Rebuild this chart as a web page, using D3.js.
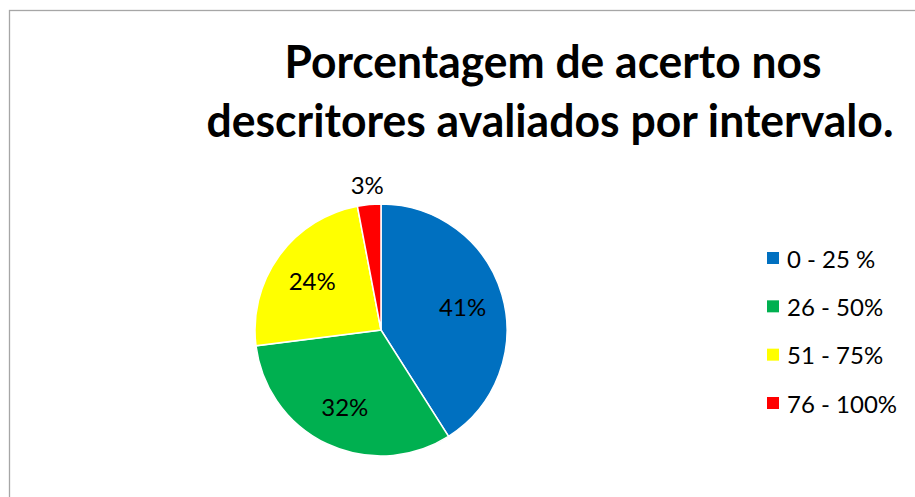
<!DOCTYPE html>
<html lang="pt">
    <head>
        <meta charset="utf-8">
        <title>Porcentagem de acerto</title>
        <script type="text/javascript" src="https://d3js.org/d3.v7.min.js"></script>
        <style type="text/css">
            body {
                margin: 0;
                background: #ffffff;
            }
            .title {
                font-family: Lato, "Open Sans", sans-serif;
                font-weight: bold;
                font-size: 45px;
                fill: #000000;
            }
            .label, .legend text {
                font-family: Lato, "Open Sans", sans-serif;
                font-size: 24px;
                fill: #000000;
            }
        </style>
    </head>
    <body>
        <script type="text/javascript">

        // chart data
        const categories = ["0 - 25 %", "26 - 50%", "51 - 75%", "76 - 100%"];
        const values = [41, 32, 24, 3];
        const colors = ["#0070c0", "#00b050", "#ffff00", "#ff0000"];
        const titleLines = ["Porcentagem de acerto nos", "descritores avaliados por intervalo."];

        const width = 915;
        const height = 497;
        const cx = 381, cy = 330, radius = 126;

        const svg = d3.select("body")
                    .append("svg")
                    .attr("width", width)
                    .attr("height", height);

        // chart area border (only top and left are inside the picture)
        svg.append("rect")
            .attr("x", 9.5)
            .attr("y", 10.5)
            .attr("width", width + 20)
            .attr("height", height + 20)
            .attr("fill", "none")
            .attr("stroke", "#a6a6a6")
            .attr("stroke-width", 1.3);

        // title, two lines, squeezed to the width of the original
        const titleWidths = [537, 687];
        const titleCenters = [553, 550];
        const titleBaselines = [78, 137];
        svg.selectAll("text.title")
            .data(titleLines)
            .enter()
            .append("text")
            .attr("class", "title")
            .attr("text-anchor", "middle")
            .attr("x", (d, i) => titleCenters[i])
            .attr("y", (d, i) => titleBaselines[i])
            .attr("textLength", (d, i) => titleWidths[i])
            .attr("lengthAdjust", "spacingAndGlyphs")
            .text(d => d);

        const color = d3.scaleOrdinal().domain(categories).range(colors);

        const pie = d3.pie().sort(null).value(d => d.value);
        const dataset = categories.map((c, i) => ({ name: c, value: values[i] }));
        const arcs = pie(dataset);

        const arc = d3.arc().innerRadius(0).outerRadius(radius);
        const labelArc = d3.arc().innerRadius(85).outerRadius(85);
        const outerArc = d3.arc().innerRadius(radius + 20).outerRadius(radius + 20);

        const g = svg.append("g")
                    .attr("transform", "translate(" + cx + "," + cy + ")");

        g.selectAll("path")
            .data(arcs)
            .enter()
            .append("path")
            .attr("d", arc)
            .attr("fill", d => color(d.data.name))
            .attr("stroke", "#ffffff")
            .attr("stroke-width", 1.5);

        // data labels - small slice goes outside
        const total = d3.sum(values);
        g.selectAll("text.label")
            .data(arcs)
            .enter()
            .append("text")
            .attr("class", "label")
            .attr("text-anchor", "middle")
            .attr("dominant-baseline", "central")
            .attr("transform", d => {
                const p = d.data.value < 5 ? outerArc.centroid(d) : labelArc.centroid(d);
                return "translate(" + p[0] + "," + p[1] + ")";
            })
            .text(d => Math.round(d.data.value / total * 100) + "%");

        // legend
        const legendY = d3.scalePoint()
                        .domain(categories)
                        .range([258, 403]);

        const legend = svg.append("g").attr("class", "legend");
        const rows = legend.selectAll("g")
                        .data(categories)
                        .enter()
                        .append("g")
                        .attr("transform", d => "translate(767," + legendY(d) + ")");
        rows.append("rect")
            .attr("x", 0)
            .attr("y", -6)
            .attr("width", 12)
            .attr("height", 12)
            .attr("fill", d => color(d));
        rows.append("text")
            .attr("x", 20)
            .attr("y", 0)
            .attr("dominant-baseline", "central")
            .text(d => d);

        </script>
    </body>
</html>
